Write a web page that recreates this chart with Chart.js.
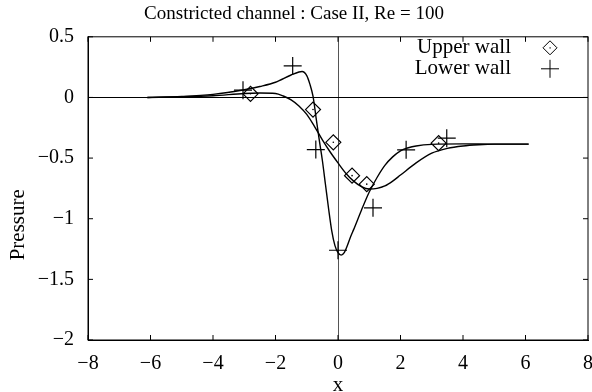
<!DOCTYPE html>
<html>
<head>
<meta charset="utf-8">
<script src="https://cdn.jsdelivr.net/npm/chart.js"></script>
<style>
  html, body { margin: 0; padding: 0; background: #fff; }
</style>
</head>
<body>
<canvas id="myChart" width="592" height="392"></canvas>
<script>
// DATOS
const upperX = [-6.1, -5, -4, -3, -2.5, -2, -1.75, -1.5, -1.25, -1, -0.75, -0.5, -0.25, 0, 0.25, 0.5, 0.75, 1, 1.25, 1.5, 1.75, 2, 2.5, 3, 3.5, 4, 4.5, 5, 6.1];
const upperY = [0, 0.005, 0.014, 0.033, 0.037, 0.033, 0.012, -0.02, -0.07, -0.14, -0.24, -0.35, -0.45, -0.54, -0.625, -0.69, -0.735, -0.755, -0.75, -0.73, -0.69, -0.64, -0.54, -0.46, -0.42, -0.4, -0.39, -0.385, -0.385];

const lowerX = [-6.1, -5, -4, -3, -2.5, -2, -1.5, -1.25, -1.15, -1, -0.9, -0.8, -0.7, -0.6, -0.5, -0.4, -0.3, -0.2, -0.1, 0, 0.1, 0.2, 0.3, 0.4, 0.5, 0.75, 1, 1.25, 1.5, 1.75, 2, 2.25, 2.5, 3, 4, 5, 6.1];
const lowerY = [0, 0.008, 0.025, 0.063, 0.09, 0.125, 0.185, 0.21, 0.214, 0.18, 0.11, 0.01, -0.17, -0.35, -0.52, -0.72, -0.92, -1.1, -1.22, -1.28, -1.3, -1.28, -1.22, -1.15, -1.09, -0.93, -0.78, -0.66, -0.56, -0.49, -0.44, -0.415, -0.4, -0.387, -0.383, -0.385, -0.385];

const upperPtsX = [-2.8, -0.8, -0.15, 0.45, 0.92, 3.22];
const upperPtsY = [0.03, -0.1, -0.37, -0.645, -0.715, -0.377];

const lowerPtsX = [-3.04, -1.45, -0.71, 0.0, 1.12, 2.18, 3.48];
const lowerPtsY = [0.06, 0.26, -0.43, -1.26, -0.91, -0.432, -0.336];

const xTicks = [-8, -6, -4, -2, 0, 2, 4, 6, 8];
const yTicks = [-2, -1.5, -1, -0.5, 0, 0.5];
const seriesNames = ['Upper wall', 'Lower wall'];
const yTitle = 'Pressure';

const FUENTE = 'Liberation Serif, Times New Roman, serif';

function pares(xs, ys) {
    return xs.map((x, i) => ({ x: x, y: ys[i] }));
}

function conMenos(v) {
    return String(v).replace('-', '\u2212');
}

// PLUGIN: marco, ticks hacia dentro, titulo del eje y y leyenda
const marcoPlugin = {
    id: 'marco',
    afterDraw(chart) {
        const ctx = chart.ctx;
        const a = chart.chartArea;
        const sx = chart.scales.x;
        const sy = chart.scales.y;
        ctx.save();
        ctx.strokeStyle = '#000';
        ctx.lineWidth = 1;
        ctx.strokeRect(a.left, a.top, a.right - a.left, a.bottom - a.top);
        ctx.beginPath();
        xTicks.forEach(v => {
            const px = sx.getPixelForValue(v);
            ctx.moveTo(px, a.bottom); ctx.lineTo(px, a.bottom - 5);
            ctx.moveTo(px, a.top); ctx.lineTo(px, a.top + 5);
        });
        yTicks.forEach(v => {
            const py = sy.getPixelForValue(v);
            ctx.moveTo(a.left, py); ctx.lineTo(a.left + 5, py);
            ctx.moveTo(a.right, py); ctx.lineTo(a.right - 5, py);
        });
        ctx.stroke();

        ctx.fillStyle = '#000';
        ctx.textBaseline = 'middle';

        // titulo eje y (algo por debajo del centro, como en el original)
        ctx.save();
        ctx.font = '21px ' + FUENTE;
        ctx.textAlign = 'center';
        ctx.translate(18, a.top + (a.bottom - a.top) * 0.62);
        ctx.rotate(-Math.PI / 2);
        ctx.fillText(yTitle, 0, 0);
        ctx.restore();

        // leyenda
        ctx.font = '21px ' + FUENTE;
        ctx.textAlign = 'right';
        const tx = a.right - 77;
        const mx = a.right - 38;
        const y1 = a.top + 11;
        const y2 = a.top + 32;
        ctx.fillText(seriesNames[0], tx, y1);
        ctx.fillText(seriesNames[1], tx, y2);
        // rombo
        ctx.beginPath();
        ctx.moveTo(mx, y1 - 7); ctx.lineTo(mx + 7, y1); ctx.lineTo(mx, y1 + 7); ctx.lineTo(mx - 7, y1); ctx.closePath();
        ctx.stroke();
        ctx.fillRect(mx - 0.5, y1 - 0.5, 1.2, 1.2);
        // cruz
        ctx.beginPath();
        ctx.moveTo(mx - 9, y2); ctx.lineTo(mx + 9, y2);
        ctx.moveTo(mx, y2 - 9); ctx.lineTo(mx, y2 + 9);
        ctx.stroke();
        ctx.restore();
    }
};

const ctx = document.getElementById('myChart');

new Chart(ctx, {
    type: 'scatter',
    data: {
        datasets: [
            {
                label: seriesNames[0] + ' (curva)',
                data: pares(upperX, upperY),
                showLine: true,
                borderColor: '#000',
                borderWidth: 1.4,
                pointRadius: 0,
                cubicInterpolationMode: 'monotone'
            },
            {
                label: seriesNames[1] + ' (curva)',
                data: pares(lowerX, lowerY),
                showLine: true,
                borderColor: '#000',
                borderWidth: 1.4,
                pointRadius: 0,
                cubicInterpolationMode: 'monotone'
            },
            {
                label: seriesNames[0],
                data: pares(upperPtsX, upperPtsY),
                pointStyle: 'rectRot',
                pointRadius: 7.5,
                borderColor: '#000',
                borderWidth: 1.2,
                backgroundColor: 'rgba(0,0,0,0)'
            },
            {
                label: seriesNames[0] + ' (centro)',
                data: pares(upperPtsX, upperPtsY),
                pointStyle: 'circle',
                pointRadius: 0.8,
                borderWidth: 0,
                backgroundColor: '#000'
            },
            {
                label: seriesNames[1],
                data: pares(lowerPtsX, lowerPtsY),
                pointStyle: 'cross',
                pointRadius: 9,
                borderColor: '#000',
                borderWidth: 1.2
            }
        ]
    },
    options: {
        responsive: false,
        animation: false,
        events: [],
        layout: { autoPadding: false, padding: { left: 0, right: 4, top: 0, bottom: 0 } },
        plugins: {
            legend: { display: false },
            tooltip: { enabled: false },
            title: {
                display: true,
                text: 'Constricted channel : Case II, Re = 100',
                color: '#000',
                font: { family: FUENTE, size: 19, weight: 'normal' },
                padding: { top: 3, bottom: 11 }
            }
        },
        scales: {
            x: {
                type: 'linear',
                min: -8,
                max: 8,
                afterBuildTicks: s => { s.ticks = xTicks.map(v => ({ value: v })); },
                afterFit: s => { s.height = 52; s.paddingLeft = 0; s.paddingRight = 0; },
                ticks: {
                    color: '#000',
                    padding: 12,
                    maxRotation: 0,
                    font: { family: FUENTE, size: 20 },
                    callback: v => conMenos(v)
                },
                grid: {
                    drawTicks: false,
                    color: c => (c.tick && c.tick.value === 0) ? '#555' : 'rgba(0,0,0,0)'
                },
                border: { display: true, color: '#000', width: 1 },
                title: {
                    display: true,
                    text: 'x',
                    color: '#000',
                    font: { family: FUENTE, size: 21, lineHeight: 0.6 },
                    padding: { top: 0, bottom: 0 }
                }
            },
            y: {
                type: 'linear',
                min: -2,
                max: 0.5,
                afterBuildTicks: s => { s.ticks = yTicks.map(v => ({ value: v })); },
                afterFit: s => { s.width = 88; },
                ticks: {
                    color: '#000',
                    padding: 14,
                    font: { family: FUENTE, size: 20 },
                    callback: v => conMenos(v)
                },
                grid: {
                    drawTicks: false,
                    color: c => (c.tick && c.tick.value === 0) ? '#000' : 'rgba(0,0,0,0)'
                },
                border: { display: true, color: '#000', width: 1 },
                title: { display: false }
            }
        }
    },
    plugins: [marcoPlugin]
});
</script>
</body>
</html>
